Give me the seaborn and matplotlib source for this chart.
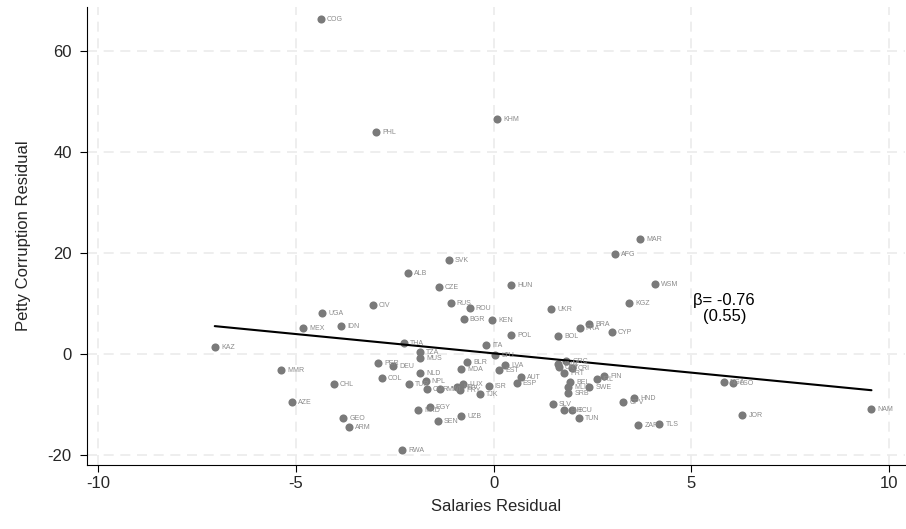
"""Petty corruption residual vs salaries residual, country-labelled scatter with OLS fit."""
import matplotlib
matplotlib.use('Agg')
import numpy as np
import pandas as pd
import matplotlib.pyplot as plt
import seaborn as sns

countries = ['COG', 'PHL', 'KHM', 'MAR', 'AFG', 'SVK', 'ALB', 'WSM', 'HUN', 'CZE',
             'KGZ', 'CIV', 'RUS', 'ROU', 'UKR', 'UGA', 'BGR', 'KEN', 'IDN', 'MEX',
             'BRA', 'FRA', 'CYP', 'POL', 'BOL', 'ITA', 'THA', 'KAZ', 'TZA', 'MUS',
             'LTU', 'BLR', 'LVA', 'MDA', 'EST', 'PER', 'DEU', 'MMR', 'NLD', 'COL',
             'CHL', 'TUR', 'NPL', 'CMR', 'MWI', 'HRV', 'LUX', 'PRY', 'TJK', 'ISR',
             'AUT', 'ESP', 'GRC', 'SVN', 'URY', 'CRI', 'PRT', 'BEL', 'MLI', 'SRB',
             'SWE', 'IRL', 'FIN', 'SLV', 'BIH', 'ECU', 'TUN', 'CPV', 'HND', 'ZAF',
             'TLS', 'NGA', 'LSO', 'JOR', 'NAM', 'AZE', 'GEO', 'ARM', 'RWA', 'EGY',
             'MKD', 'SEN', 'UZB']
salaries_resid = [-4.37, -2.98, 0.08, 3.71, 3.06, -1.14, -2.17, 4.07, 0.43, -1.39,
                  3.43, -3.06, -1.09, -0.61, 1.46, -4.34, -0.76, -0.03, -3.86, -4.82,
                  2.42, 2.17, 2.98, 0.45, 1.62, -0.20, -2.27, -7.05, -1.87, -1.87,
                  0.03, -0.68, 0.28, -0.83, 0.13, -2.93, -2.55, -5.38, -1.87, -2.83,
                  -4.04, -2.15, -1.72, -1.69, -1.36, -0.93, -0.78, -0.86, -0.35, -0.13,
                  0.68, 0.58, 1.84, 1.62, 1.64, 1.97, 1.77, 1.94, 1.87, 1.89,
                  2.42, 2.60, 2.80, 1.49, 1.77, 1.97, 2.15, 3.28, 3.56, 3.66,
                  4.19, 5.81, 6.06, 6.29, 9.55, -5.10, -3.81, -3.66, -2.32, -1.62,
                  -1.92, -1.41, -0.83]
corruption_resid = [66.3, 44.0, 46.5, 22.8, 19.8, 18.6, 16.0, 13.9, 13.7, 13.3,
                    10.1, 9.7, 10.1, 9.1, 8.9, 8.1, 6.9, 6.7, 5.5, 5.1,
                    5.9, 5.1, 4.4, 3.8, 3.6, 1.8, 2.2, 1.4, 0.4, -0.8,
                    -0.2, -1.6, -2.2, -3.0, -3.2, -1.8, -2.4, -3.2, -3.8, -4.8,
                    -5.9, -5.9, -5.3, -6.9, -6.9, -6.5, -5.9, -7.1, -7.9, -6.3,
                    -4.6, -5.7, -1.4, -2.0, -2.6, -2.8, -3.8, -5.5, -6.5, -7.7,
                    -6.5, -5.0, -4.4, -9.9, -11.1, -11.1, -12.7, -9.5, -8.7, -14.1,
                    -13.9, -5.5, -5.7, -12.1, -10.9, -9.5, -12.7, -14.5, -19.0, -10.5,
                    -11.1, -13.3, -12.3]
beta_text = 'β= -0.76\n(0.55)'
x_ticks = [-10, -5, 0, 5, 10]
y_ticks = [-20, 0, 20, 40, 60]

df = pd.DataFrame({'country': countries, 'salaries': salaries_resid,
                   'corruption': corruption_resid})

sns.set_style('white')
plt.rcParams['font.family'] = ['Liberation Sans', 'DejaVu Sans']
plt.rcParams['axes.unicode_minus'] = False

fig = plt.figure(figsize=(9.06, 5.29), dpi=100)
ax = fig.add_axes([0.096, 0.121, 0.903, 0.866])

# dashed stata-like grid
for v in x_ticks:
    ax.axvline(v, color='#ebebeb', lw=1.2, ls=(0, (6, 4)), zorder=0)
for v in y_ticks:
    ax.axhline(v, color='#ebebeb', lw=1.2, ls=(0, (6, 4)), zorder=0)

sns.regplot(data=df, x='salaries', y='corruption', ci=None, ax=ax,
            scatter_kws={'s': 34, 'color': '#7a7a7a', 'alpha': 1, 'linewidths': 0, 'zorder': 3},
            line_kws={'color': 'black', 'lw': 1.5, 'zorder': 4})

for _, r in df.iterrows():
    ax.annotate(r['country'], (r['salaries'], r['corruption']), xytext=(4.5, -0.6),
                textcoords='offset points', fontsize=5, color='#8a8a8a',
                va='center', ha='left', zorder=5)

ax.text(5.83, 9.0, beta_text, ha='center', va='center', fontsize=12,
        linespacing=1.15, color='black')

ax.set_xlim(-10.28, 10.4)
ax.set_ylim(-22, 68.7)
ax.set_xticks(x_ticks)
ax.set_yticks(y_ticks)
ax.tick_params(axis='both', labelsize=12, length=5, width=0.8, direction='out',
               color='black', bottom=True, left=True, pad=3)
ax.tick_params(axis='y', pad=6)
ax.set_xlabel('Salaries Residual', fontsize=12, labelpad=6)
ax.set_ylabel('Petty Corruption Residual', fontsize=12, labelpad=12)
sns.despine(ax=ax, top=True, right=True)
for s in ['left', 'bottom']:
    ax.spines[s].set_color('black')
    ax.spines[s].set_linewidth(0.8)

fig.savefig('out.png', dpi=100)
plt.close(fig)
